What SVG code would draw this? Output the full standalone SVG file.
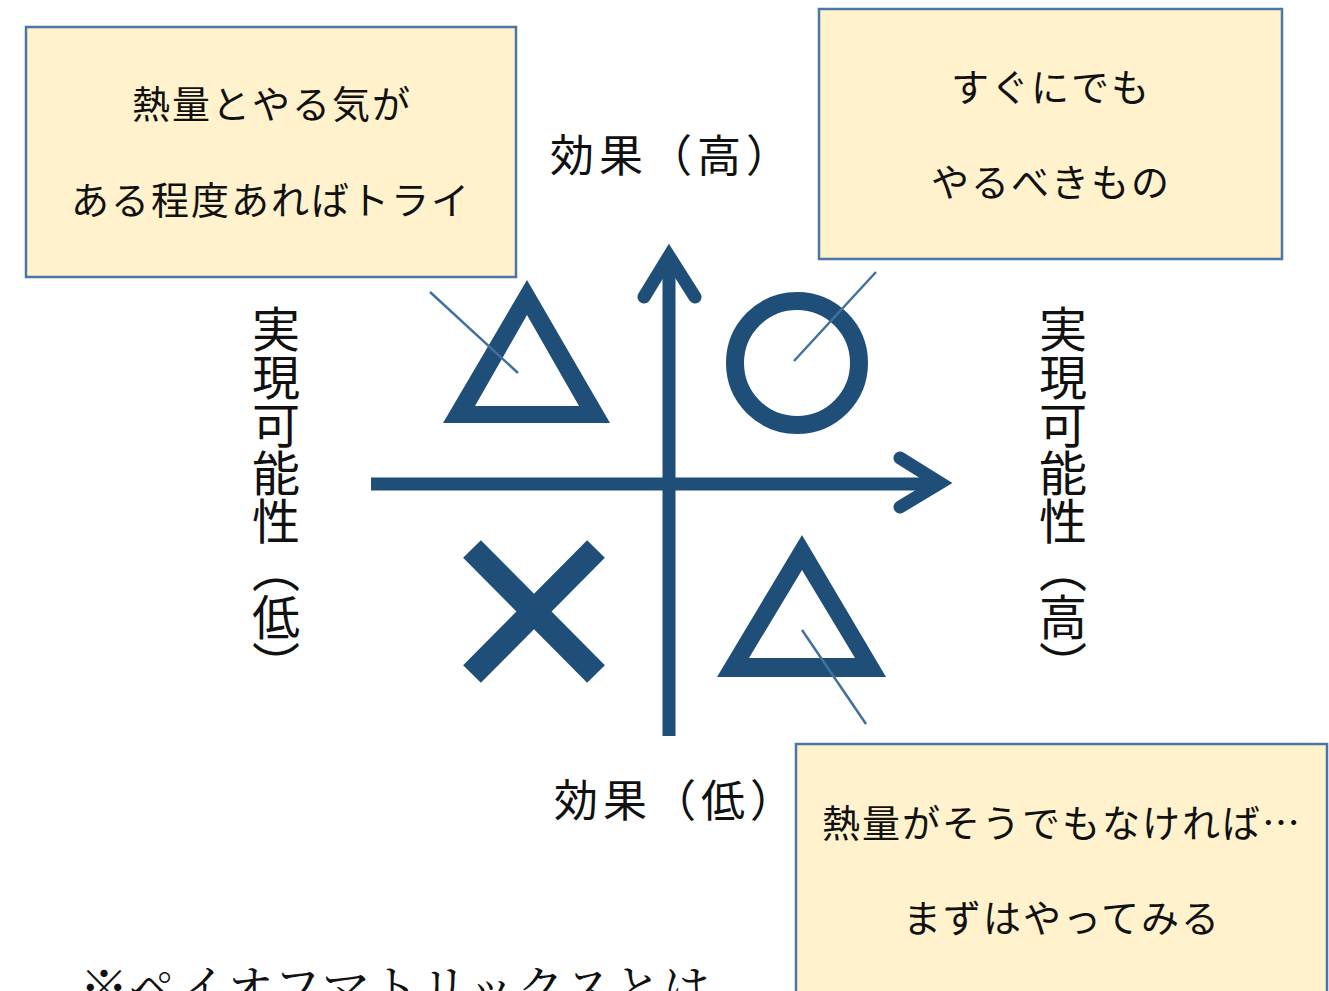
<svg xmlns="http://www.w3.org/2000/svg" width="1329" height="991" viewBox="0 0 1329 991">
<style>
.box{fill:#FFF2CC;stroke:#4A76A8;stroke-width:2.5}
.t{font-family:"Noto Sans CJK JP","Noto Sans CJK SC",sans-serif;fill:#111}
.bt{font-size:38px;text-anchor:middle;letter-spacing:2px}
.ax{font-size:44px;letter-spacing:5px}
.vt{font-size:48px;writing-mode:vertical-rl}
.sym{fill:#1F4E79;fill-rule:evenodd}
.lead{stroke:#41719C;stroke-width:2.5;fill:none}
.axis{stroke:#1F4E79;stroke-width:13;fill:none}
.head{stroke:#1F4E79;stroke-width:13;fill:none;stroke-linecap:round;stroke-linejoin:miter;stroke-miterlimit:6}
</style>
<rect width="1329" height="991" fill="#fff"/>
<g id="axes">
<line class="axis" x1="669" y1="736" x2="669" y2="256"/>
<polyline class="head" points="644,297 669,256 695,297"/>
<line class="axis" x1="371" y1="484" x2="940" y2="484"/>
<polyline class="head" points="900,458 940,483 900,507"/>
</g>
<g id="symbols">
<path id="tri-tl" class="sym" d="M527,280 L443,423 L610,423 Z M527,315 L475,406 L579,406 Z"/>
<circle id="circle-tr" cx="797" cy="363" r="62" fill="none" stroke="#1F4E79" stroke-width="18"/>
<g id="cross-bl" stroke="#1F4E79" stroke-width="25">
<line x1="472" y1="549" x2="596" y2="674"/>
<line x1="596" y1="549" x2="472" y2="674"/>
</g>
<path id="tri-br" class="sym" d="M802,535 L717,677 L886,677 Z M802,570 L749,658 L855,658 Z"/>
</g>
<g id="connectors">
<line class="lead" x1="430" y1="292" x2="518" y2="373"/>
<line class="lead" x1="876" y1="272" x2="794" y2="361"/>
<line class="lead" x1="802" y1="630" x2="866" y2="724"/>
</g>
<g id="node-tl">
<rect class="box" x="26" y="27" width="490" height="250"/>
<text class="t bt" x="272" y="118">熱量とやる気が</text>
<text class="t bt" x="271" y="214">ある程度あればトライ</text>
</g>
<g id="node-tr">
<rect class="box" x="819" y="9" width="463" height="250"/>
<text class="t bt" x="1051" y="101">すぐにでも</text>
<text class="t bt" x="1051" y="196">やるべきもの</text>
</g>
<g id="node-br">
<rect class="box" x="796" y="744" width="531" height="260"/>
<text class="t bt" x="1062" y="837">熱量がそうでもなければ…</text>
<text class="t bt" x="1062" y="932">まずはやってみる</text>
</g>
<g id="labels">
<text class="t ax" x="550" y="172">効果（高）</text>
<text class="t ax" x="554" y="817">効果（低）</text>
<text class="t vt" x="276" y="305">実現可能性（低）</text>
<text class="t vt" x="1063" y="305">実現可能性（高）</text>
<text class="t" x="80" y="1005" style="font-size:48px;letter-spacing:1px;font-family:'Noto Serif CJK JP','Noto Sans CJK JP',serif">※ペイオフマトリックスとは</text>
</g>
</svg>
